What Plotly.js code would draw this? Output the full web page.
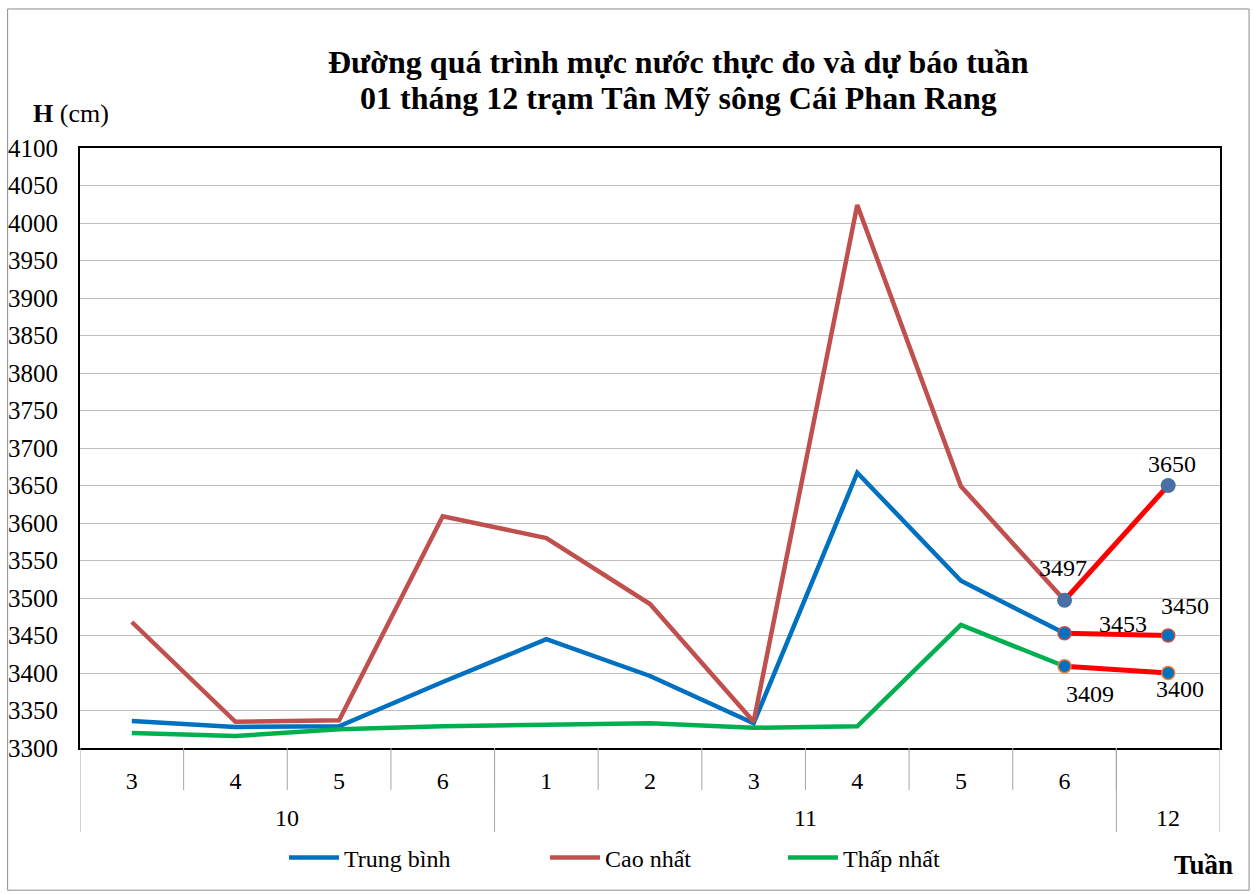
<!DOCTYPE html>
<html><head><meta charset="utf-8">
<script src="https://cdn.plot.ly/plotly-3.0.1.min.js"></script>
<style>html,body{margin:0;padding:0;background:#fff}#c{width:1255px;height:894px}</style>
</head><body><div id="c"></div>
<script>
// ---- data ----
const weekLabels = ["3","4","5","6","1","2","3","4","5","6",""];
const monthLabels = ["10","11","12"];
const monthSpans = [[0,3],[4,9],[10,10]];
const trungBinh = [3336,3328,3329,3388,3445,3396,3333,3667,3523,3453];
const caoNhat   = [3468,3335,3337,3609,3580,3492,3335,4024,3649,3497];
const thapNhat  = [3320,3316,3325,3329,3331,3333,3327,3329,3464,3409];
const fcCao  = [3497,3650];
const fcTB   = [3453,3450];
const fcThap = [3409,3400];
const titleLines = ["Đường quá trình mực nước thực đo và dự báo tuần", "01 tháng 12 trạm Tân Mỹ sông Cái Phan Rang"];

const FONT = "Liberation Serif";
const idx = weekLabels.map((_, i) => i);
const obsX = trungBinh.map((_, i) => i);
const fcX = [obsX.length - 1, obsX.length];

const traces = [
  {x: obsX, y: trungBinh, name: "Trung bình", mode: "lines", line: {color: "#0070C0", width: 4.5}, legend: "legend"},
  {x: obsX, y: caoNhat, name: "Cao nhất", mode: "lines", line: {color: "#C0504D", width: 4.5}, legend: "legend2"},
  {x: obsX, y: thapNhat, name: "Thấp nhất", mode: "lines", line: {color: "#00B050", width: 4.5}, legend: "legend3"},
  {x: fcX, y: fcCao, mode: "lines+markers", showlegend: false, line: {color: "#FF0000", width: 5},
   marker: {size: 15, color: "#4A6FA5", line: {width: 0}}},
  {x: fcX, y: fcTB, mode: "lines+markers", showlegend: false, line: {color: "#FF0000", width: 5},
   marker: {size: 13, color: "#0070C0", line: {width: 1.5, color: "#C0504D"}}},
  {x: fcX, y: fcThap, mode: "lines+markers", showlegend: false, line: {color: "#FF0000", width: 5},
   marker: {size: 13, color: "#0070C0", line: {width: 1.5, color: "#ED7D31"}}}
];

const annotations = [];
// data labels
const lblFont = {family: FONT, size: 24, color: "#000"};
const labelSets = [
  {vals: fcCao, shifts: [[-2, 32], [4, 22]]},
  {vals: fcTB, shifts: [[58, 9], [17, 30]]},
  {vals: fcThap, shifts: [[25, -28], [12, -16]]}
];
labelSets.forEach(s => s.vals.forEach((v, j) => {
  annotations.push({x: fcX[j], y: v, xref: "x", yref: "y", text: String(v), showarrow: false,
    xshift: s.shifts[j][0], yshift: s.shifts[j][1], font: lblFont});
}));
// title (two lines)
const titleY = [1.143, 1.083];
titleLines.forEach((t, k) => {
  annotations.push({xref: "paper", yref: "paper", x: 0.525, y: titleY[k], yanchor: "middle",
    text: "<b>" + t + "</b>", showarrow: false, font: {family: FONT, size: 32, color: "#000"}});
});
annotations.push({xref: "paper", yref: "paper", x: 0.027, y: 1.058, yanchor: "middle", xanchor: "right",
  text: "<b>H</b> (cm)", showarrow: false, font: {family: FONT, size: 26, color: "#000"}});
annotations.push({xref: "paper", yref: "paper", x: 1.013, y: -0.195, yanchor: "middle", xanchor: "right",
  text: "<b>Tuần</b>", showarrow: false, font: {family: FONT, size: 27, color: "#000"}});
// month group labels
monthLabels.forEach((m, k) => {
  annotations.push({xref: "x", yref: "paper", x: (monthSpans[k][0] + monthSpans[k][1]) / 2, y: -0.117,
    yanchor: "middle", text: m, showarrow: false, font: {family: FONT, size: 24, color: "#000"}});
});

const shapes = [];
// outer frame
shapes.push({type: "rect", xref: "paper", yref: "paper", x0: -0.0635, x1: 1.0255, y0: -0.237, y1: 1.2317,
  line: {color: "#8C8C8C", width: 1}, layer: "below"});
// category separators
for (let i = 1; i < weekLabels.length; i++) {
  shapes.push({type: "line", xref: "x", yref: "paper", x0: i - 0.5, x1: i - 0.5, y0: 0, y1: -0.07,
    line: {color: "#A6A6A6", width: 1}});
}
// group dividers
const groupEdges = [-0.5].concat(monthSpans.map(s => s[1] + 0.5));
groupEdges.forEach(e => {
  shapes.push({type: "line", xref: "x", yref: "paper", x0: e, x1: e, y0: 0, y1: -0.14,
    line: {color: "#A6A6A6", width: 1}});
});

const legFont = {family: FONT, size: 24, color: "#000"};
const legBase = {orientation: "h", y: -0.183, yanchor: "middle", xanchor: "left", font: legFont,
  bgcolor: "rgba(0,0,0,0)", itemwidth: 50};

const layout = {
  width: 1255, height: 894,
  margin: {l: 80, r: 35, t: 148, b: 146},
  paper_bgcolor: "#fff", plot_bgcolor: "#fff",
  font: {family: FONT, size: 24, color: "#000"},
  showlegend: true,
  legend: Object.assign({}, legBase, {x: (284 - 80) / 1140}),
  legend2: Object.assign({}, legBase, {x: (545 - 80) / 1140}),
  legend3: Object.assign({}, legBase, {x: (783 - 80) / 1140}),
  xaxis: {range: [-0.5, weekLabels.length - 0.5], tickvals: idx, ticktext: weekLabels,
    showgrid: false, zeroline: false, showline: true, linecolor: "#000", linewidth: 2, mirror: true,
    ticks: "", ticklabelstandoff: 10, tickfont: {family: FONT, size: 24, color: "#000"}},
  yaxis: {range: [3300, 4100], dtick: 50, showgrid: true, gridcolor: "#BFBFBF", gridwidth: 1,
    zeroline: false, showline: true, linecolor: "#000", linewidth: 2, mirror: true,
    ticks: "", ticklabelstandoff: 15, tickfont: {family: FONT, size: 25, color: "#000"}},
  annotations: annotations,
  shapes: shapes
};

Plotly.newPlot("c", traces, layout, {displayModeBar: false, staticPlot: true});
</script>
</body></html>
